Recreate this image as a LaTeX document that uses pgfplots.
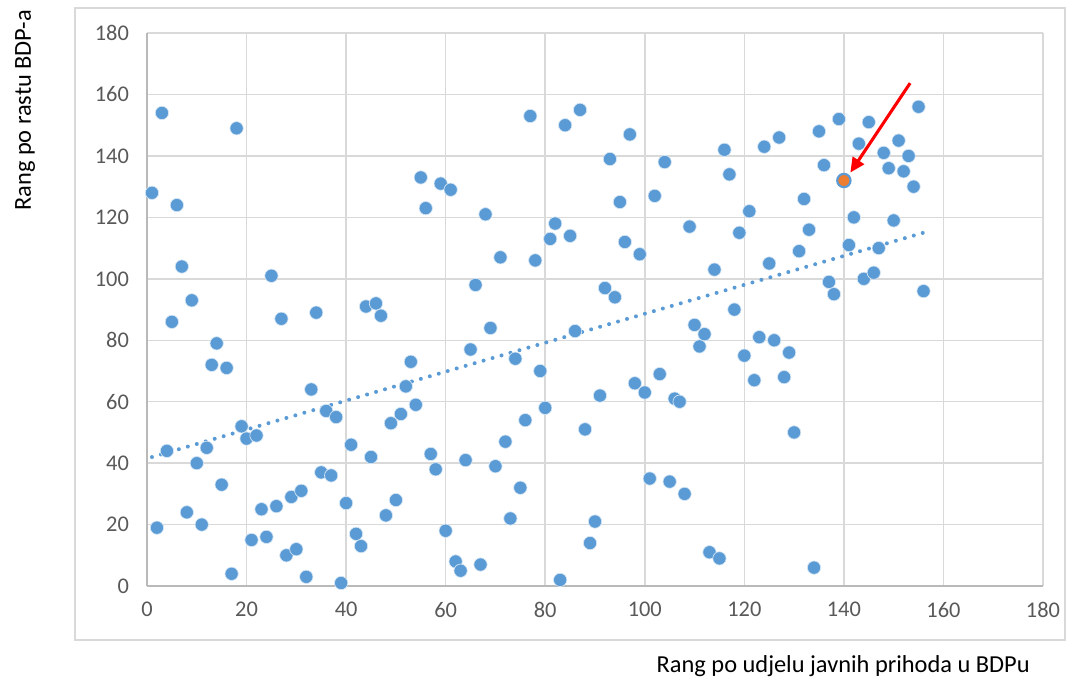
\documentclass[border=0pt]{standalone}
\usepackage{pgfplots}
\usepackage{pgfplotstable}
\pgfplotsset{compat=1.18}
\usepackage{fontspec}
\setmainfont{Carlito}
\usetikzlibrary{arrows.meta}
\definecolor{ptblue}{HTML}{5B9BD5}
\definecolor{ptorange}{HTML}{ED7D31}
\definecolor{gridgray}{HTML}{D9D9D9}
\definecolor{ticktext}{HTML}{595959}

\pgfplotstableread{
x y
1 128
2 19
3 154
4 44
5 86
6 124
7 104
8 24
9 93
10 40
11 20
12 45
13 72
14 79
15 33
16 71
17 4
18 149
19 52
20 48
21 15
22 49
23 25
24 16
25 101
26 26
27 87
28 10
29 29
30 12
31 31
32 3
33 64
34 89
35 37
36 57
37 36
38 55
39 1
40 27
41 46
42 17
43 13
44 91
45 42
46 92
47 88
48 23
49 53
50 28
51 56
52 65
53 73
54 59
55 133
56 123
57 43
58 38
59 131
60 18
61 129
62 8
63 5
64 41
65 77
66 98
67 7
68 121
69 84
70 39
71 107
72 47
73 22
74 74
75 32
76 54
77 153
78 106
79 70
80 58
81 113
82 118
83 2
84 150
85 114
86 83
87 155
88 51
89 14
90 21
91 62
92 97
93 139
94 94
95 125
96 112
97 147
98 66
99 108
100 63
101 35
102 127
103 69
104 138
105 34
106 61
107 60
108 30
109 117
110 85
111 78
112 82
113 11
114 103
115 9
116 142
117 134
118 90
119 115
120 75
121 122
122 67
123 81
124 143
125 105
126 80
127 146
128 68
129 76
130 50
131 109
132 126
133 116
134 6
135 148
136 137
137 99
138 95
139 152
140 132
141 111
142 120
143 144
144 100
145 151
146 102
147 110
148 141
149 136
150 119
151 145
152 135
153 140
154 130
155 156
156 96
}\data

\begin{document}
\begin{tikzpicture}
\begin{axis}[
  scale only axis, width=672pt, height=414.75pt,
  xmin=0, xmax=180, ymin=0, ymax=180,
  xtick={0,20,...,180}, ytick={0,20,...,180},
  grid=major, major grid style={draw=gridgray, line width=1.1pt},
  axis x line*=bottom, axis y line*=left,
  axis line style={-, draw=gray!55, line width=1.1pt},
  major tick length=0pt,
  tick label style={font=\fontsize{16.8}{19}\selectfont, text=ticktext},
  /pgf/number format/assume math mode=true,
  xticklabel style={yshift=-8.5pt},
  yticklabel style={xshift=-10pt},
  clip=false,
]
\coordinate (BL) at (axis cs:-29.53,-30.6);
\coordinate (TR) at (axis cs:187.03,190.76);
\draw[gridgray, line width=1.1pt] (axis cs:-14.46,-17.58) rectangle (axis cs:184.4,188.15);

\addplot[only marks, mark=*, mark size=5pt, mark options={fill=ptblue, draw=white!75!ptblue, line width=0.5pt}] table[x=x, y=y] {\data};

\addplot[ptblue, line width=3pt, line cap=round, dash pattern=on 0pt off 7pt, no marks]
  table[x=x, y={create col/linear regression={y=y}}] {\data};

\addplot[only marks, mark=*, mark size=5pt, mark options={fill=ptorange, draw=ptblue, line width=1.6pt}] coordinates {(140,132)};

\draw[red, line width=2.3pt, -{Triangle[length=11pt, width=10pt]}] (axis cs:153.3,163.7) -- (axis cs:141.3,134.6);

\node[rotate=90, anchor=east, font=\fontsize{18.3}{21}\selectfont, inner sep=0pt] at (axis cs:-24.5,187.6) {Rang po rastu BDP-a};
\node[anchor=south east, font=\fontsize{18.3}{21}\selectfont, inner sep=0pt] at (axis cs:177.4,-29.6) {Rang po udjelu javnih prihoda u BDPu};
\end{axis}
\pgfresetboundingbox
\path[use as bounding box] (BL) rectangle (TR);
\end{tikzpicture}
\end{document}
